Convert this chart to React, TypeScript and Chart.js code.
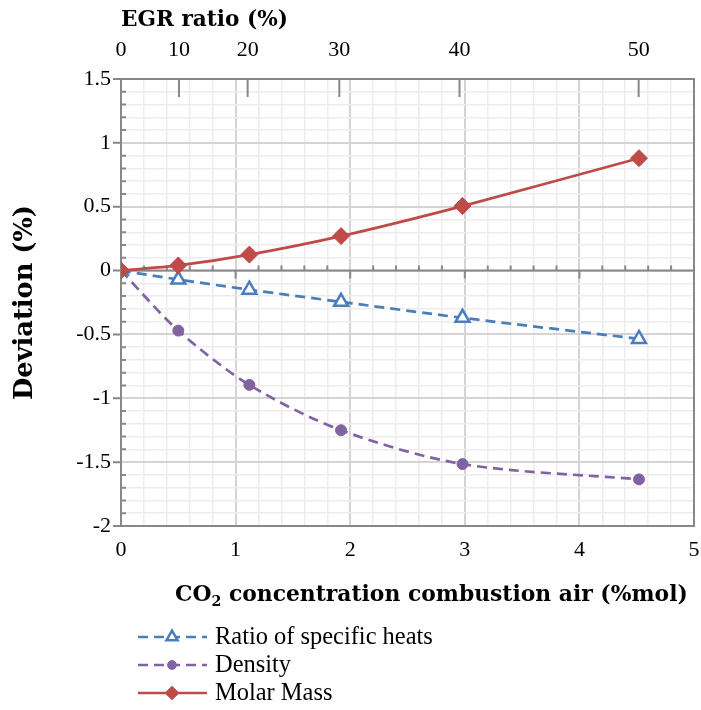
import { useEffect, useRef } from "react";
import { Chart, registerables } from "chart.js";

Chart.register(...registerables);

// ---- data ----
const co2Concentration = [0, 0.5, 1.12, 1.92, 2.98, 4.52];
const ratioSpecificHeats = [0, -0.07, -0.15, -0.245, -0.37, -0.535];
const densityDev = [0, -0.47, -0.895, -1.25, -1.515, -1.635];
const molarMassDev = [0, 0.04, 0.125, 0.27, 0.505, 0.88];
const egrTickPositions = [0, 0.506, 1.105, 1.905, 2.954, 4.517];
const egrTickLabels = ["0", "10", "20", "30", "40", "50"];
const seriesNames = ["Ratio of specific heats", "Density", "Molar Mass"];

const FONT = "'Liberation Serif', 'Times New Roman', serif";
const TFONT = "'DejaVu Serif', serif";
const AXIS_GRAY = "#888888";

const isMult = (v: number, step: number) => Math.abs(v / step - Math.round(v / step)) < 1e-6;

function fitSize(parts: [string, number][], weight: string, family: string, target: number) {
  const c = document.createElement("canvas").getContext("2d")!;
  let w = 0;
  for (const [t, scale] of parts) {
    c.font = `${weight} ${100 * scale}px ${family}`;
    w += c.measureText(t).width;
  }
  return (100 * target) / w;
}

function drawMarker(ctx: CanvasRenderingContext2D, style: string, r: number, x: number, y: number) {
  ctx.beginPath();
  if (style === "circle") {
    ctx.arc(x, y, r, 0, Math.PI * 2);
  } else if (style === "triangle") {
    ctx.moveTo(x, y - r);
    ctx.lineTo(x + r * 0.866, y + r * 0.5);
    ctx.lineTo(x - r * 0.866, y + r * 0.5);
    ctx.closePath();
  } else {
    ctx.moveTo(x, y - r);
    ctx.lineTo(x + r, y);
    ctx.lineTo(x, y + r);
    ctx.lineTo(x - r, y);
    ctx.closePath();
  }
  ctx.fill();
  ctx.stroke();
}

const X_TITLE_PARTS: [string, number][] = [
  ["CO", 1],
  ["2", 0.65],
  [" concentration combustion air (%mol)", 1],
];

const framePlugin = {
  id: "frame",
  beforeDatasetsDraw(chart: any) {
    const { ctx, chartArea, scales } = chart;
    const { left, right, top, bottom } = chartArea;
    const x = scales.x;
    const y = scales.y;
    const xt = scales.xTop;
    ctx.save();
    ctx.strokeStyle = AXIS_GRAY;
    ctx.lineWidth = 2;
    ctx.beginPath();
    ctx.moveTo(left - 8, top);
    ctx.lineTo(right, top);
    ctx.lineTo(right, bottom);
    ctx.lineTo(left - 8, bottom);
    ctx.stroke();
    ctx.beginPath();
    ctx.moveTo(left, top);
    ctx.lineTo(left, bottom);
    for (let i = -20; i <= 15; i++) {
      const py = y.getPixelForValue(i / 10);
      if (i % 5 === 0) {
        ctx.moveTo(left - 8, py);
        ctx.lineTo(left, py);
      } else {
        ctx.moveTo(left, py);
        ctx.lineTo(left + 5, py);
      }
    }
    ctx.stroke();
    const y0 = y.getPixelForValue(0);
    ctx.beginPath();
    ctx.moveTo(left, y0);
    ctx.lineTo(right, y0);
    for (let i = 1; i <= 25; i++) {
      const px = x.getPixelForValue(i / 5);
      if (i % 5 === 0) {
        ctx.moveTo(px, y0);
        ctx.lineTo(px, y0 + 8);
      } else {
        ctx.moveTo(px, y0 - 5);
        ctx.lineTo(px, y0);
      }
    }
    ctx.stroke();
    ctx.beginPath();
    egrTickPositions.forEach((v, i) => {
      if (i === 0) return;
      const px = xt.getPixelForValue(v);
      ctx.moveTo(px, top);
      ctx.lineTo(px, top + 18);
    });
    ctx.stroke();
    ctx.restore();
  },
  afterDraw(chart: any) {
    const { ctx } = chart;
    ctx.save();
    const s = fitSize(X_TITLE_PARTS, "bold", TFONT, 513);
    const baseY = 601;
    let cx = 175;
    ctx.fillStyle = "#000";
    ctx.textBaseline = "alphabetic";
    ctx.textAlign = "left";
    X_TITLE_PARTS.forEach(([t, sc], i) => {
      ctx.font = `bold ${s * sc}px ${TFONT}`;
      ctx.fillText(t, cx, i === 1 ? baseY + s * 0.25 : baseY);
      cx += ctx.measureText(t).width;
    });

    const rows = [637, 665, 693];
    const ls = fitSize([[seriesNames[0], 1]], "normal", FONT, 218);
    const ds = chart.data.datasets;
    ds.forEach((d: any, i: number) => {
      const ry = rows[i];
      ctx.save();
      ctx.strokeStyle = d.borderColor;
      ctx.lineWidth = d.borderWidth;
      ctx.setLineDash(d.borderDash || []);
      ctx.beginPath();
      ctx.moveTo(138, ry);
      ctx.lineTo(207, ry);
      ctx.stroke();
      ctx.restore();
      ctx.save();
      ctx.strokeStyle = d.pointBorderColor;
      ctx.fillStyle = d.pointBackgroundColor;
      ctx.lineWidth = d.pointBorderWidth;
      drawMarker(ctx, d.pointStyle, d.pointRadius * 0.8, 172, ry);
      ctx.restore();
      ctx.fillStyle = "#000";
      ctx.font = `${ls}px ${FONT}`;
      ctx.textBaseline = "middle";
      ctx.textAlign = "left";
      ctx.fillText(seriesNames[i], 215, ry + 1);
    });
    ctx.restore();
  },
};

export default function App() {
  const ref = useRef<HTMLCanvasElement | null>(null);
  useEffect(() => {
    if (!ref.current) return;
    const egrSize = fitSize([["EGR ratio (%)", 1]], "bold", TFONT, 167);
    const devSize = fitSize([["Deviation (%)", 1]], "bold", TFONT, 195);
    const mk = (ys: number[]) => co2Concentration.map((x, i) => ({ x, y: ys[i] }));
    const noPad = (s: any) => {
      s.paddingLeft = 0;
      s.paddingRight = 0;
    };
    const chart = new Chart(ref.current, {
      type: "line",
      data: {
        datasets: [
          {
            label: seriesNames[0],
            data: mk(ratioSpecificHeats),
            borderColor: "#4A7EBB",
            borderWidth: 2.7,
            borderDash: [10, 6],
            pointStyle: "triangle",
            pointRadius: 8,
            pointBorderWidth: 2.5,
            pointBorderColor: "#4A7EBB",
            pointBackgroundColor: "#FFFFFF",
            tension: 0.3,
            order: 1,
          },
          {
            label: seriesNames[1],
            data: mk(densityDev),
            borderColor: "#8064A2",
            borderWidth: 2.7,
            borderDash: [10, 6],
            pointStyle: "circle",
            pointRadius: 5.5,
            pointBorderWidth: 1,
            pointBorderColor: "#8064A2",
            pointBackgroundColor: "#8064A2",
            tension: 0.3,
            order: 2,
          },
          {
            label: seriesNames[2],
            data: mk(molarMassDev),
            borderColor: "#BE4B48",
            borderWidth: 2.7,
            pointStyle: "rectRot",
            pointRadius: 8.5,
            pointBorderWidth: 1,
            pointBorderColor: "#BE4B48",
            pointBackgroundColor: "#BE4B48",
            tension: 0.3,
            order: 0,
          },
        ] as any,
      },
      options: {
        animation: false,
        responsive: false,
        devicePixelRatio: 1,
        maintainAspectRatio: false,
        layout: { autoPadding: false, padding: { left: 0, right: 7, top: 0, bottom: 0 } },
        plugins: { legend: { display: false }, tooltip: { enabled: false } },
        scales: {
          x: {
            type: "linear",
            position: "bottom",
            min: 0,
            max: 5,
            afterFit: (s: any) => {
              s.height = 184;
              noPad(s);
            },
            border: { display: false },
            grid: {
              drawTicks: false,
              color: (c: any) => (isMult(c.tick.value, 1) ? "#D4D4D4" : "#EDEDED"),
              lineWidth: (c: any) => (isMult(c.tick.value, 1) ? 2 : 1.5),
            },
            ticks: {
              stepSize: 0.2,
              autoSkip: false,
              maxRotation: 0,
              padding: 11,
              color: "#000",
              font: { family: FONT, size: 22 },
              callback: (v: any) => (isMult(Number(v), 1) ? String(Math.round(Number(v))) : ""),
            },
          },
          xTop: {
            type: "linear",
            position: "top",
            min: 0,
            max: 5,
            afterFit: (s: any) => {
              s.height = 79;
              noPad(s);
            },
            afterBuildTicks: (s: any) => {
              s.ticks = egrTickPositions.map((v) => ({ value: v }));
            },
            border: { display: false },
            grid: { display: false, drawTicks: false },
            ticks: {
              autoSkip: false,
              maxRotation: 0,
              padding: 16,
              color: "#000",
              font: { family: FONT, size: 22 },
              callback: (_v: any, i: number) => egrTickLabels[i],
            },
            title: {
              display: true,
              text: "EGR ratio (%)",
              align: "start",
              color: "#000",
              font: { family: TFONT, size: egrSize, weight: "bold" },
              padding: { top: 20 - egrSize * 0.6, bottom: 0 },
            },
          },
          y: {
            type: "linear",
            min: -2,
            max: 1.5,
            afterFit: (s: any) => {
              s.width = 121;
            },
            border: { display: false },
            grid: {
              drawTicks: false,
              color: (c: any) => (isMult(c.tick.value, 0.5) ? "#D4D4D4" : "#EDEDED"),
              lineWidth: (c: any) => (isMult(c.tick.value, 0.5) ? 2 : 1.5),
            },
            ticks: {
              stepSize: 0.1,
              autoSkip: false,
              padding: 10,
              color: "#000",
              font: { family: FONT, size: 22 },
              callback: (v: any) => {
                const n = Number(v);
                if (!isMult(n, 0.5)) return "";
                return String(Math.round(n * 10) / 10);
              },
            },
            title: {
              display: true,
              text: "Deviation (%)",
              color: "#000",
              font: { family: TFONT, size: devSize, weight: "bold" },
              padding: { top: 25 - devSize * 0.6, bottom: 0 },
            },
          },
        },
      } as any,
      plugins: [framePlugin],
    });
    return () => chart.destroy();
  }, []);

  return (
    <div style={{ position: "absolute", left: 0, top: 0, width: 701, height: 710, background: "#fff" }}>
      <canvas ref={ref} width={701} height={710} style={{ display: "block" }} />
    </div>
  );
}
